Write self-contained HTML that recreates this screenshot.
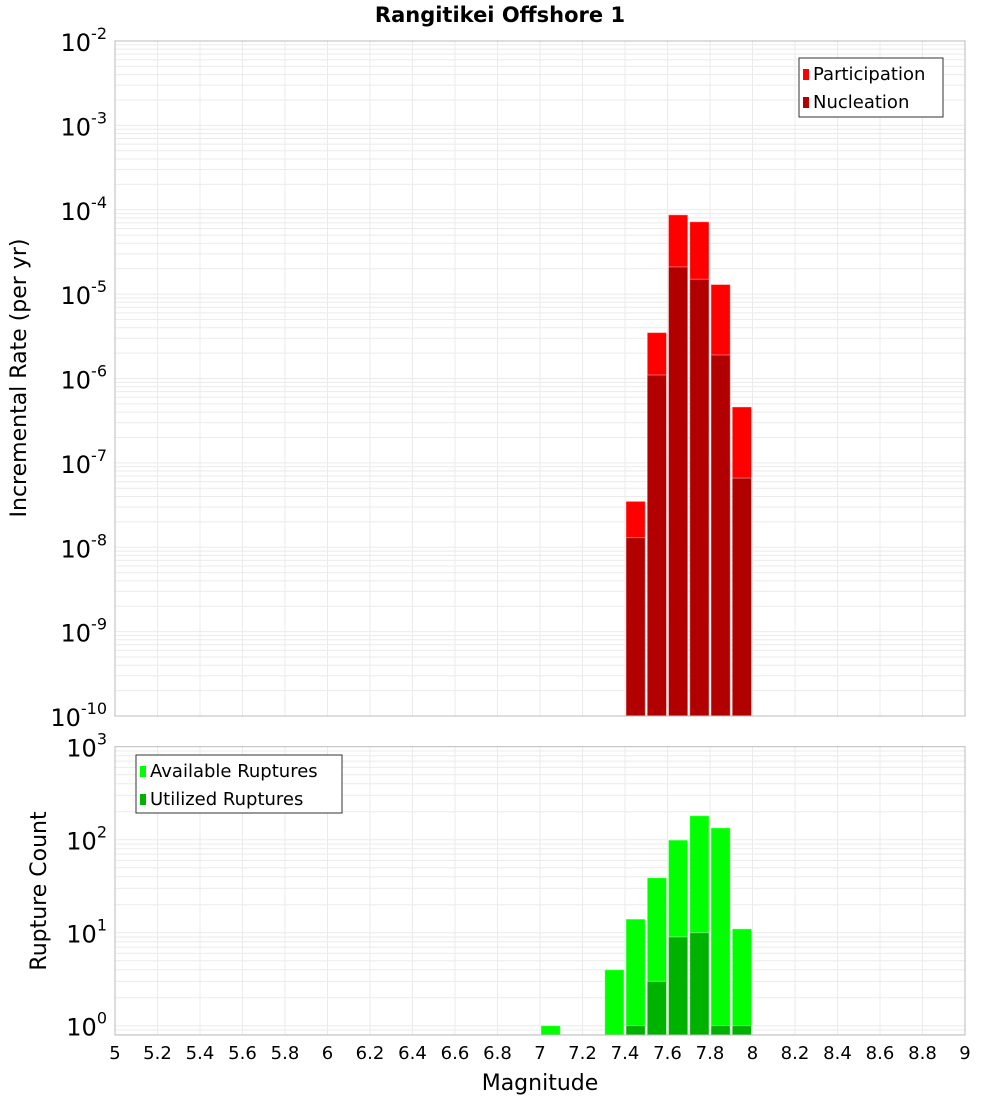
<!DOCTYPE html>
<html><head><meta charset="utf-8"><style>
body{margin:0;background:#fff;}
svg text{font-family:"DejaVu Sans","Liberation Sans",sans-serif;}
</style></head><body>
<svg id="c" width="1000" height="1100" xmlns="http://www.w3.org/2000/svg"></svg>
<script>
const mags=[7.05,7.35,7.45,7.55,7.65,7.75,7.85,7.95];
const rateMags=[7.45,7.55,7.65,7.75,7.85,7.95];
const participation=[3.5e-8,3.5e-6,8.7e-5,7.2e-5,1.3e-5,4.6e-7];
const nucleation=[1.3e-8,1.1e-6,2.1e-5,1.5e-5,1.9e-6,6.6e-8];
const available=[1,4,14,39,99,181,134,11];
const utilizedMags=[7.45,7.55,7.65,7.75,7.85,7.95];
const utilized=[1,3,9,10,1,1];
const xTicks=[5,5.2,5.4,5.6,5.8,6,6.2,6.4,6.6,6.8,7,7.2,7.4,7.6,7.8,8,8.2,8.4,8.6,8.8,9];
const topExps=[-2,-3,-4,-5,-6,-7,-8,-9,-10];
const botExps=[3,2,1,0];

const NS="http://www.w3.org/2000/svg";
const svg=document.getElementById('c');
function el(t,a,p){const e=document.createElementNS(NS,t);for(const k in a)e.setAttribute(k,a[k]);(p||svg).appendChild(e);return e;}
const L=115,R=965;
const x=v=>L+(v-5)/(9-5)*(R-L);
const T1=41,B1=716;
const y1=v=>T1+(-2-Math.log10(v))*(B1-T1)/8;
const T2=746.7,B2=1035,pd=93,y0=1025.7;
const y2=v=>y0-Math.log10(v)*pd;

function grid(top,bot,lo,hi,yf,name){
  const g=el('g',{});
  for(let d=lo;d<hi;d++)for(let m=1;m<10;m++){const yy=yf(m*Math.pow(10,d));if(yy<top-0.1||yy>bot)continue;
    el('line',{x1:L,x2:R,y1:yy,y2:yy,stroke:'#ebebeb','stroke-width':1},g);}
  xTicks.forEach(t=>el('line',{x1:x(t),x2:x(t),y1:top,y2:bot,stroke:'#ebebeb','stroke-width':1},g));
}
el('rect',{x:L,y:T1,width:R-L,height:B1-T1,fill:'#fff'});
grid(T1,B1,-10,-2,y1,'top-grid');
grid(T2,B2,-1,3,y2,'bottom-grid');

function bar(m,v,yf,bot,fill,name){
  const r=el('rect',{x:x(m-0.05)+1,y:yf(v),width:(x(0.1)-x(0))-2,height:bot-yf(v),fill:fill,stroke:'#fff','stroke-opacity':0.4});
  
}
rateMags.forEach((m,i)=>bar(m,participation[i],y1,B1,'#ff0000','participation-bar'));
rateMags.forEach((m,i)=>bar(m,nucleation[i],y1,B1,'#b20000','nucleation-bar'));
mags.forEach((m,i)=>bar(m,available[i],y2,B2,'#00ff00','available-bar'));
utilizedMags.forEach((m,i)=>bar(m,utilized[i],y2,B2,'#00b200','utilized-bar'));

el('rect',{x:L,y:T1,width:R-L,height:B1-T1,fill:'none',stroke:'#bbb'});
el('rect',{x:L,y:T2,width:R-L,height:B2-T2,fill:'none',stroke:'#bbb'});

function expLabel(e,yy,name){
  const t=el('text',{x:L-8,y:yy+10,'text-anchor':'end','font-size':24,fill:'#000'});
  
  const a=document.createElementNS(NS,'tspan');a.textContent='10';t.appendChild(a);
  const b=document.createElementNS(NS,'tspan');b.setAttribute('dy','-12');b.setAttribute('font-size','16');b.textContent=String(e);t.appendChild(b);
}
topExps.forEach(e=>expLabel(e,y1(Math.pow(10,e)),'y-tick-label'));
botExps.forEach(e=>expLabel(e,y2(Math.pow(10,e)),'y2-tick-label'));
xTicks.forEach(t=>{const tx=el('text',{x:x(t),y:1059,'text-anchor':'middle','font-size':18,fill:'#000'});tx.textContent=String(t);
  });

function txt(s,a,name){const t=el('text',a);t.textContent=s;return t;}
txt('Rangitikei Offshore 1',{x:500,y:22,'text-anchor':'middle','font-size':21,'font-weight':'bold'},'chart-title');
txt('Incremental Rate (per yr)',{x:26,y:378,'text-anchor':'middle','font-size':22,transform:'rotate(-90 26 378)'},'y-axis-title');
txt('Rupture Count',{x:46,y:891,'text-anchor':'middle','font-size':22,transform:'rotate(-90 46 891)'},'y2-axis-title');
txt('Magnitude',{x:540,y:1090,'text-anchor':'middle','font-size':22},'x-axis-title');

function legend(bx,by,w,h,items,name){
  const g=el('g',{});
  el('rect',{x:bx,y:by,width:w,height:h,fill:'#fff',stroke:'#333'},g);
  items.forEach((it,i)=>{
    el('rect',{x:bx+4,y:by+11+i*28,width:6,height:11,fill:it[1]},g);
    const t=el('text',{x:bx+14,y:by+22+i*28,'font-size':18},g);t.textContent=it[0];
  });
}
legend(799,58,144,59,[['Participation','#ff0000'],['Nucleation','#b20000']],'legend-top');
legend(136,755,206,58,[['Available Ruptures','#00ff00'],['Utilized Ruptures','#00b200']],'legend-bottom');
</script>
</body></html>
